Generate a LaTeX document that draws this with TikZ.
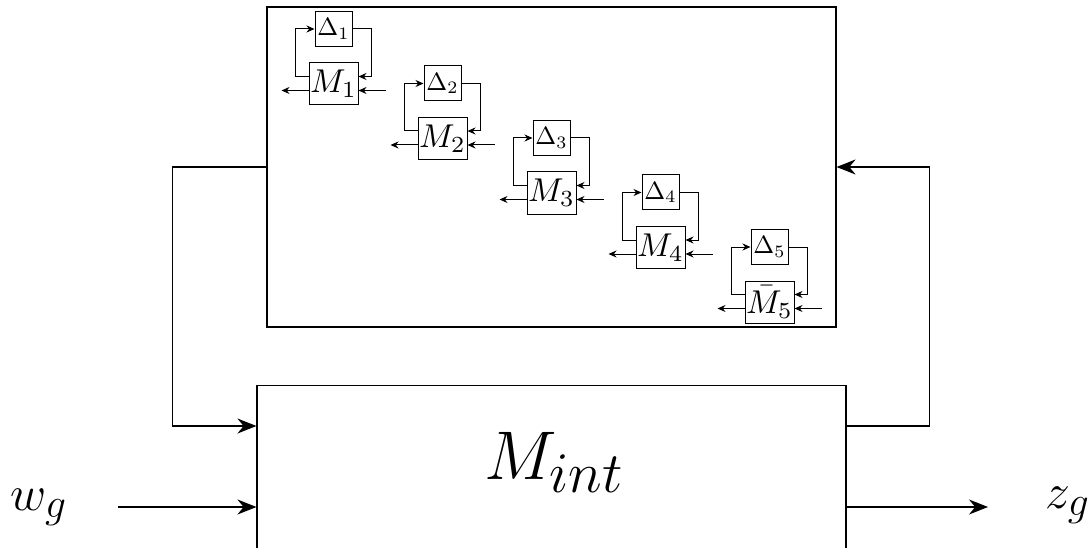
\documentclass[tikz,border=0pt]{standalone}
\usepackage{graphicx}
\usetikzlibrary{arrows.meta}
\newcommand{\sz}[2]{\scalebox{#1}{#2}}
\tikzset{
  mbox/.style={draw, line width=1pt, minimum width=49pt, minimum height=42pt, inner sep=0pt},
  dbox/.style={draw, line width=1pt, minimum width=37pt, minimum height=35pt, inner sep=0pt},
  sarr/.style={line width=1pt, -{Stealth[length=8pt,width=7pt]}},
  barr/.style={line width=1.1pt, -{Stealth[length=19pt,width=15pt]}},
  bigbox/.style={draw, line width=1.1pt, inner sep=0pt},
  biglbl/.style={inner sep=0pt}
}
\begin{document}
\begin{tikzpicture}[x=1pt,y=-1pt]
\useasboundingbox (0,0) rectangle (1089,548);
\clip (0,0) rectangle (1089,548);
% outer boxes
\node[bigbox, minimum width=569pt, minimum height=320pt] (big) at (551.5,167) {};
\node[bigbox, minimum width=589pt, minimum height=240pt, anchor=north] (Mint) at (551.5,385) {};
\node[inner sep=0pt, anchor=base west] (Mintlbl) at (484,479) {\sz{2.77}{\Huge$M_{int}$}};
% blocks
\foreach \i/\lbl in {0/{M_1},1/{M_2},2/{M_3},3/{M_4},4/{\bar{M}_5}}{
  \pgfmathsetmacro{\cx}{333.5+109*\i}
  \pgfmathsetmacro{\cy}{84+54.5*\i}
  \pgfmathtruncatemacro{\k}{\i+1}
  \node[mbox] (M\i) at (\cx,\cy) {\sz{3.3}{$\lbl$}};
  \node[dbox] (D\i) at (\cx,\cy-55) {\sz{2.5}{$\Delta_{\k}$}};
  \draw[sarr] ([yshift=7.5pt]M\i.west) -- ++(-13,0) |- (D\i.west);
  \draw[sarr] (D\i.east) -| ([xshift=13pt,yshift=7.5pt]M\i.east) -- ([yshift=7.5pt]M\i.east);
  \coordinate (o\i) at ([xshift=-27pt,yshift=-6.5pt]M\i.west);
  \coordinate (n\i) at ([xshift=27pt,yshift=-6.5pt]M\i.east);
  \draw[sarr] ([yshift=-6.5pt]M\i.west) -- (o\i);
  \draw[sarr] (n\i) -- ([yshift=-6.5pt]M\i.east);
}
% interconnections
\coordinate (inA) at ([yshift=-41pt]Mint.north west);
\coordinate (outA) at ([yshift=-41pt]Mint.north east);
\coordinate (inB) at ([yshift=-122pt]Mint.north west);
\coordinate (outB) at ([yshift=-122pt]Mint.north east);
\draw[barr] (big.west) -- ++(-94,0) |- (inA);
\draw[barr] (outA) -- ++(83,0) |- (big.east);
\node[biglbl, anchor=base west] (wg) at (10,510) {\sz{2.0}{\Huge$w_g$}};
\node[biglbl, anchor=base west] (zg) at (1045,508) {\sz{2.0}{\Huge$z_g$}};
\coordinate (wstart) at (118,507);
\coordinate (zend) at (988,507);
\draw[barr] (wstart) -- (inB);
\draw[barr] (outB) -- (zend);
\end{tikzpicture}
\end{document}
